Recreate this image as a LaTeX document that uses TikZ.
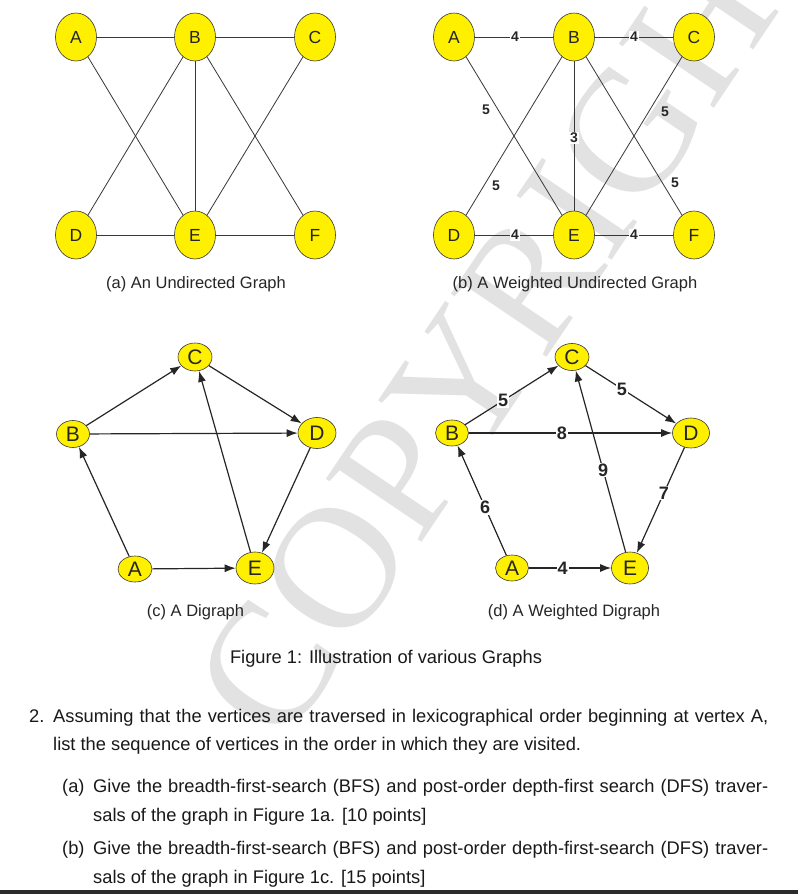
\documentclass[tikz,border=0pt]{standalone}
\usepackage{fontspec}
\setmainfont{Liberation Sans}
\newfontfamily\wmfont{Liberation Serif}
\usetikzlibrary{shapes.geometric,arrows.meta,calc}
\definecolor{nodeyellow}{RGB}{255,240,0}
\definecolor{edgegray}{RGB}{55,55,55}
\definecolor{wmgray}{RGB}{226,226,226}
\definecolor{bandgray}{RGB}{43,43,43}
\begin{document}
\begin{tikzpicture}[x=1pt,y=-1pt,
  vtx/.style={ellipse, draw=edgegray, line width=0.6pt, fill=nodeyellow, inner sep=0pt, text=black!85},
  bigv/.style={vtx, minimum width=41pt, minimum height=48pt, font=\fontsize{17.5}{17.5}\selectfont},
  smv/.style={vtx, font=\fontsize{21}{21}\selectfont},
  uedge/.style={draw=edgegray, line width=0.8pt},
  dedge/.style={draw=black!85, line width=1.2pt, -{Latex[length=11pt,width=8pt]}},
  wlab/.style={fill=white, inner sep=1pt, font=\bfseries\fontsize{14}{14}\selectfont, text=black!85},
  olab/.style={inner sep=1pt, font=\bfseries\fontsize{14}{14}\selectfont, text=black!85},
  dlab/.style={fill=white, inner sep=1pt, font=\bfseries\fontsize{18}{18}\selectfont, text=black!85},
  capt/.style={font=\fontsize{16.5}{16.5}\selectfont, text=black!85},
  body/.style={font=\fontsize{18.3}{18.3}\selectfont, text=black!90, inner sep=0pt}]
\useasboundingbox (0,0) rectangle (798,894);
\fill[white] (0,0) rectangle (798,894);
% watermark
\node[rotate=56, font=\wmfont\fontsize{175}{175}\selectfont, text=wmgray] (wm) at (515,302) {COPYRIGHT};

% (a) undirected graph
\node[bigv] (aA) at (76,37) {A};
\node[bigv] (aB) at (195,37) {B};
\node[bigv] (aC) at (315,37) {C};
\node[bigv] (aD) at (76,235) {D};
\node[bigv] (aE) at (195,235) {E};
\node[bigv] (aF) at (315,235) {F};
\draw[uedge] (aA) -- (aB);
\draw[uedge] (aB) -- (aC);
\draw[uedge] (aD) -- (aE);
\draw[uedge] (aE) -- (aF);
\draw[uedge] (aA) -- (aE);
\draw[uedge] (aB) -- (aD);
\draw[uedge] (aB) -- (aE);
\draw[uedge] (aB) -- (aF);
\draw[uedge] (aC) -- (aE);
\node[capt] (capa) at (196,284) {(a) An Undirected Graph};

% (b) weighted undirected graph
\node[bigv] (bA) at (454,37) {A};
\node[bigv] (bB) at (574,37) {B};
\node[bigv] (bC) at (694,37) {C};
\node[bigv] (bD) at (454,235) {D};
\node[bigv] (bE) at (574,235) {E};
\node[bigv] (bF) at (694,235) {F};
\draw[uedge] (bA) -- (bB);
\draw[uedge] (bB) -- (bC);
\draw[uedge] (bD) -- (bE);
\draw[uedge] (bE) -- (bF);
\draw[uedge] (bA) -- (bE);
\draw[uedge] (bB) -- (bD);
\draw[uedge] (bB) -- (bE);
\draw[uedge] (bB) -- (bF);
\draw[uedge] (bC) -- (bE);
\node[wlab] (wAB) at (515,37) {4};
\node[wlab] (wBC) at (634,37) {4};
\node[wlab] (wDE) at (515,235) {4};
\node[wlab] (wEF) at (634,235) {4};
\node[wlab] (wBE) at (574,138) {3};
\node[olab] (wAE) at (486,110) {5};
\node[olab] (wBD) at (496,186) {5};
\node[olab] (wCE) at (665,112) {5};
\node[olab] (wBF) at (675,183) {5};
\node[capt] (capb) at (575,284) {(b) A Weighted Undirected Graph};

% (c) digraph
\node[smv, minimum width=34pt, minimum height=28pt] (cC) at (195,357) {C};
\node[smv, minimum width=33pt, minimum height=27pt] (cB) at (73,434) {B};
\node[smv, minimum width=38pt, minimum height=31pt] (cD) at (317,433) {D};
\node[smv, minimum width=34pt, minimum height=26pt] (cA) at (135,569) {A};
\node[smv, minimum width=38pt, minimum height=32pt] (cE) at (255,568) {E};
\draw[dedge] (cA) -- (cB);
\draw[dedge] (cB) -- (cC);
\draw[dedge] (cB) -- (cD);
\draw[dedge] (cC) -- (cD);
\draw[dedge] (cD) -- (cE);
\draw[dedge] (cE) -- (cC);
\draw[dedge] (cA) -- (cE);
\node[capt] (capc) at (195.5,612) {(c) A Digraph};

% (d) weighted digraph
\node[smv, minimum width=34pt, minimum height=27pt] (dC) at (572,357) {C};
\node[smv, minimum width=33pt, minimum height=26pt] (dB) at (452,433) {B};
\node[smv, minimum width=37pt, minimum height=30pt] (dD) at (691,433) {D};
\node[smv, minimum width=33pt, minimum height=26pt] (dA) at (512,568) {A};
\node[smv, minimum width=37pt, minimum height=32pt] (dE) at (630,568) {E};
\draw[dedge] (dA) -- (dB);
\draw[dedge] (dB) -- (dC);
\draw[dedge] (dB) -- (dD);
\draw[dedge] (dC) -- (dD);
\draw[dedge] (dD) -- (dE);
\draw[dedge] (dE) -- (dC);
\draw[dedge] (dA) -- (dE);
\node[dlab] (vBC) at ($(dB)!0.425!(dC)$) {5};
\node[dlab] (vCD) at ($(dC)!0.42!(dD)$) {5};
\node[dlab] (vBD) at ($(dB)!0.46!(dD)$) {8};
\node[dlab] (vEC) at ($(dE)!0.464!(dC)$) {9};
\node[dlab] (vDE) at ($(dD)!0.444!(dE)$) {7};
\node[dlab] (vAB) at ($(dA)!0.45!(dB)$) {6};
\node[dlab] (vAE) at ($(dA)!0.43!(dE)$) {4};
\node[capt] (capd) at (574,612) {(d) A Weighted Digraph};

% figure caption
\node[body, anchor=base] (fig) at (386,663) {Figure 1: Illustration of various Graphs};

% question text
\node[body, anchor=base west] (q2) at (29,722) {2.};
\node[body, anchor=base west] (q2l1) at (53,722) {\makebox[715pt][s]{Assuming that the vertices are traversed in lexicographical order beginning at vertex A,}};
\node[body, anchor=base west] (q2l2) at (53,750) {list the sequence of vertices in the order in which they are visited.};
\node[body, anchor=base west] (qa) at (62,792) {(a)};
\node[body, anchor=base west] (qal1) at (93,792) {\makebox[675pt][s]{Give the breadth-first-search (BFS) and post-order depth-first search (DFS) traver-}};
\node[body, anchor=base west] (qal2) at (93,821) {sals of the graph in Figure 1a. [10 points]};
\node[body, anchor=base west] (qb) at (62,854) {(b)};
\node[body, anchor=base west] (qbl1) at (93,854) {\makebox[675pt][s]{Give the breadth-first-search (BFS) and post-order depth-first-search (DFS) traver-}};
\node[body, anchor=base west] (qbl2) at (93,883) {sals of the graph in Figure 1c. [15 points]};

% bottom band
\fill[bandgray] (0,890) rectangle (798,894);
\end{tikzpicture}
\end{document}
